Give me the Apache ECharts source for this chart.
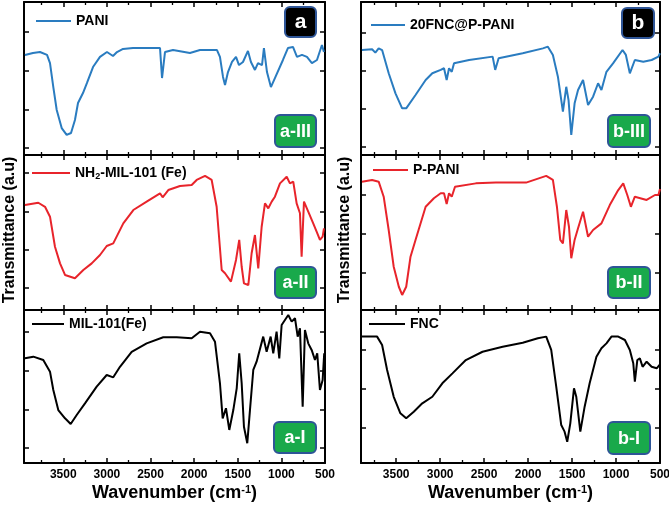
<!DOCTYPE html>
<html>
<head>
<meta charset="utf-8">
<script src="https://cdn.jsdelivr.net/npm/echarts@6/dist/echarts.min.js"></script>
<style>html,body{margin:0;padding:0;background:#fff}#c{width:669px;height:507px}</style>
</head>
<body>
<div id="c"></div>
<script>
// ---- data: [wavenumber (cm-1), transmittance (a.u., % of panel)] ----
const PANI = [[3939,65.4],[3847,66.7],[3767,67.3],[3686,65.4],[3652,60.1],[3614,44.4],[3575,29.4],[3518,17.6],[3461,13.1],[3411,14.4],[3366,22.9],[3331,34.0],[3274,40.5],[3228,47.1],[3159,57.5],[3079,64.1],[2999,67.3],[2930,64.7],[2884,67.3],[2815,69.3],[2701,69.9],[2506,69.9],[2391,69.9],[2368,50.3],[2334,67.3],[2242,68.6],[2048,66.7],[1933,68.6],[1738,68.6],[1704,64.1],[1669,51.0],[1646,45.8],[1612,54.2],[1566,60.8],[1520,64.1],[1486,58.8],[1440,60.8],[1383,68.0],[1349,60.8],[1303,55.6],[1268,60.1],[1222,58.8],[1200,69.9],[1165,54.2],[1120,44.4],[1074,50.3],[982,62.1],[925,69.9],[867,70.6],[821,64.1],[764,65.4],[707,64.1],[650,60.1],[592,62.1],[535,71.9],[512,67.3]];
const NH2_MIL = [[3939,67.7],[3786,69.2],[3709,66.6],[3652,60.2],[3595,40.8],[3537,30.1],[3480,22.6],[3366,20.5],[3270,25.8],[3174,30.1],[3079,35.5],[3002,41.3],[2927,43.0],[2812,55.9],[2697,64.5],[2544,69.9],[2391,75.3],[2361,72.7],[2296,77.4],[2162,80.0],[2028,80.6],[1971,83.9],[1875,86.5],[1799,83.9],[1742,66.6],[1684,25.8],[1646,23.7],[1578,18.3],[1520,32.3],[1483,45.2],[1455,27.9],[1429,17.2],[1379,16.1],[1341,36.6],[1303,48.4],[1265,26.9],[1226,53.7],[1188,68.8],[1150,65.6],[1111,69.9],[1074,73.1],[1016,81.7],[939,86.0],[902,81.7],[864,82.8],[825,68.8],[787,62.4],[768,34.4],[741,69.9],[692,63.4],[635,55.9],[596,50.5],[558,45.2],[527,47.3],[512,52.7]];
const MIL = [[3939,68.4],[3843,69.5],[3729,67.3],[3652,59.7],[3614,47.7],[3557,34.6],[3480,29.2],[3415,25.5],[3346,31.4],[3251,39.0],[3117,49.9],[3002,57.5],[2927,56.0],[2850,62.9],[2716,72.7],[2544,78.2],[2354,82.2],[2200,82.2],[2028,81.5],[1933,85.8],[1818,84.8],[1761,79.3],[1704,52.1],[1673,29.2],[1635,35.8],[1597,21.6],[1551,34.6],[1512,48.8],[1483,71.7],[1455,52.1],[1429,23.7],[1391,12.9],[1360,34.6],[1322,60.8],[1284,66.2],[1208,82.6],[1169,72.7],[1123,82.6],[1093,71.7],[1055,85.8],[1024,68.4],[997,90.2],[921,96.7],[882,92.4],[844,94.6],[813,82.6],[787,88.0],[756,36.8],[730,86.9],[692,78.2],[653,73.9],[615,67.3],[589,71.7],[558,47.7],[527,54.2],[509,71.7]];
const FNC_PPANI = [[3889,68.6],[3774,69.1],[3737,66.9],[3699,69.7],[3660,68.6],[3585,53.4],[3508,40.3],[3432,30.5],[3386,30.5],[3280,39.2],[3165,49.0],[3089,53.4],[2994,55.6],[2956,56.7],[2926,49.0],[2899,56.7],[2868,54.4],[2842,60.0],[2671,62.1],[2403,64.3],[2374,55.6],[2335,63.2],[2061,66.5],[1832,69.7],[1775,70.8],[1718,65.4],[1661,51.2],[1604,28.3],[1566,44.6],[1540,35.9],[1509,13.1],[1471,33.8],[1432,42.5],[1375,49.0],[1318,32.7],[1261,38.1],[1204,46.9],[1166,42.5],[1109,54.4],[1032,60.0],[926,68.6],[888,65.4],[843,53.4],[786,62.1],[690,61.0],[595,62.1],[518,64.3],[500,66.5]];
const PPANI = [[3889,82.8],[3774,83.9],[3699,82.8],[3642,73.1],[3585,51.6],[3528,27.9],[3470,15.0],[3432,9.7],[3386,15.0],[3337,34.4],[3280,45.2],[3165,66.6],[3071,72.1],[2994,75.3],[2956,75.3],[2926,68.4],[2899,75.3],[2868,73.1],[2831,79.5],[2594,81.7],[2366,82.2],[2023,82.2],[1794,86.5],[1718,83.9],[1672,66.6],[1634,45.2],[1604,43.0],[1566,64.5],[1535,53.7],[1509,33.4],[1471,45.2],[1432,52.7],[1375,63.4],[1318,47.3],[1261,51.6],[1166,55.9],[1071,67.7],[975,77.4],[918,81.7],[872,74.2],[831,66.6],[786,73.1],[652,71.0],[557,74.2],[518,74.2],[500,78.0]];
const FNC = [[3889,82.6],[3717,82.6],[3660,77.1],[3603,60.8],[3528,43.3],[3452,32.5],[3386,29.2],[3300,33.5],[3203,39.0],[3089,43.3],[2975,52.1],[2860,58.6],[2708,67.3],[2518,72.7],[2289,76.0],[2061,78.6],[1889,81.5],[1794,82.6],[1737,73.9],[1680,49.9],[1623,24.8],[1585,20.5],[1555,13.9],[1520,25.9],[1478,48.8],[1452,43.3],[1406,20.5],[1357,36.8],[1300,52.1],[1223,69.5],[1166,75.0],[1109,78.2],[1052,82.6],[975,82.6],[899,80.4],[843,73.9],[804,65.2],[786,53.1],[758,67.3],[729,68.4],[698,62.9],[652,66.2],[595,62.9],[538,61.9],[500,64.5]];

const seriesNames = ['PANI', 'NH2-MIL-101 (Fe)', 'MIL-101(Fe)', '20FNC@P-PANI', 'P-PANI', 'FNC'];
const seriesData = [PANI, NH2_MIL, MIL, FNC_PPANI, PPANI, FNC];
const panelTags = ['a-III', 'a-II', 'a-I', 'b-III', 'b-II', 'b-I'];
const columnTags = ['a', 'b'];
const xTickLabels = [500, 1000, 1500, 2000, 2500, 3000, 3500];
const xMinorTicks = [750, 1250, 1750, 2250, 2750, 3250, 3750];
const yTicks = [
  [4.6, 29.4, 54.9, 80.4],
  [14.2, 38.7, 63.2, 88.4],
  [9.8, 34.6, 60.1, 85.6],
  [5.2, 30.1, 54.9, 79.7],
  [23.9, 49.0, 74.2],
  [22.9, 48.4, 73.9]
];

// ---- layout / style ----
const FONT = '"Liberation Sans", Arial, sans-serif';
const colors = ['#2a7cc0', '#e8242b', '#000000', '#2a7cc0', '#e8242b', '#000000'];
const grids = [
  {left: 24, top: 2, width: 301, height: 153},
  {left: 24, top: 155, width: 301, height: 155},
  {left: 24, top: 310, width: 301, height: 153},
  {left: 361, top: 2, width: 299, height: 153},
  {left: 361, top: 155, width: 299, height: 155},
  {left: 361, top: 310, width: 299, height: 153}
];
const legendPos = [
  {left: 36, top: 14, w: 35}, {left: 32, top: 166, w: 38}, {left: 32, top: 317, w: 32},
  {left: 371, top: 18, w: 34}, {left: 373, top: 163, w: 35}, {left: 369, top: 317, w: 36}
];
const tagBoxes = [
  [275, 115, 41, 32], [275, 267, 41, 31], [274, 422, 42, 31],
  [608, 115, 42, 32], [608, 267, 42, 31], [608, 422, 42, 32]
];
const colBoxes = [[285, 7, 31, 30], [622, 8, 32, 30]];

const lineStyleAxis = {color: '#000', width: 2};
const xAxes = [], yAxes = [], series = [], legends = [];
grids.forEach((g, i) => {
  const right = i >= 3;
  const bottomRow = (i % 3) === 2;
  const xmax = right ? 3900 : 3950;
  // major-tick axes (bottom, top)
  ['bottom', 'top'].forEach(pos => {
    const isBottom = pos === 'bottom';
    const showLab = isBottom && bottomRow;
    xAxes.push({
      type: 'value', gridIndex: i, position: pos, inverse: true,
      min: 500, max: xmax, interval: 500,
      axisLine: {show: true, onZero: false, lineStyle: lineStyleAxis},
      axisTick: {show: true, inside: true, length: 5, customValues: xTickLabels, lineStyle: {color: '#000', width: 1.5}},
      minorTick: {show: false},
      splitLine: {show: false}, minorSplitLine: {show: false},
      axisLabel: {
        show: showLab, margin: 6, customValues: xTickLabels,
        fontFamily: FONT, fontWeight: 'bold', fontSize: 12, color: '#000',
        formatter: v => String(v)
      },
      name: showLab ? 'Wavenumber (cm{sup|-1})' : '',
      nameLocation: 'middle', nameGap: 21,
      nameTextStyle: {
        fontFamily: FONT, fontWeight: 'bold', fontSize: 18, color: '#000',
        rich: {sup: {fontFamily: FONT, fontWeight: 'bold', fontSize: 11, color: '#000', verticalAlign: 'top', padding: [0, 0, 8, 0]}}
      }
    });
  });
  // minor-tick axes (bottom, top)
  ['bottom', 'top'].forEach(pos => {
    xAxes.push({
      type: 'value', gridIndex: i, position: pos, inverse: true,
      min: 500, max: xmax, interval: 500,
      axisLine: {show: false, onZero: false},
      axisTick: {show: true, inside: true, length: 3, customValues: xMinorTicks, lineStyle: {color: '#000', width: 1.3}},
      splitLine: {show: false},
      axisLabel: {show: false}
    });
  });
  ['left', 'right'].forEach(pos => {
    yAxes.push({
      type: 'value', gridIndex: i, position: pos, min: 0, max: 100,
      axisLine: {show: true, onZero: false, lineStyle: lineStyleAxis},
      axisTick: {show: true, inside: true, length: 5, customValues: yTicks[i], lineStyle: {color: '#000', width: 1.5}},
      axisLabel: {show: false},
      splitLine: {show: false}
    });
  });
  series.push({
    name: seriesNames[i], type: 'line', xAxisIndex: i * 4, yAxisIndex: i * 2,
    data: seriesData[i], symbol: 'none', smooth: false, clip: true,
    lineStyle: {color: colors[i], width: 2}, itemStyle: {color: colors[i]}
  });
  const lp = legendPos[i];
  legends.push({
    data: [seriesNames[i]], left: lp.left, top: lp.top, padding: 0,
    icon: 'rect', itemWidth: lp.w, itemHeight: 2, itemGap: 4,
    selectedMode: false,
    formatter: n => n === 'NH2-MIL-101 (Fe)' ? 'NH{s|2}-MIL-101 (Fe)' : n,
    textStyle: {
      fontFamily: FONT, fontWeight: 'bold', fontSize: 14, color: '#000',
      rich: {s: {fontFamily: FONT, fontWeight: 'bold', fontSize: 9, color: '#000', verticalAlign: 'bottom', padding: [7, 0, 0, 0]}}
    }
  });
});

const graphics = [];
tagBoxes.forEach((b, i) => {
  graphics.push({type: 'rect', shape: {x: b[0], y: b[1], width: b[2], height: b[3], r: 5},
    style: {fill: '#19a94b', stroke: '#2e5597', lineWidth: 2}, z: 10});
  graphics.push({type: 'text', x: b[0] + b[2] / 2, y: b[1] + b[3] / 2 + 1, z: 11,
    style: {text: panelTags[i], fill: '#fff', font: 'bold 18px ' + FONT, textAlign: 'center', textVerticalAlign: 'middle'}});
});
colBoxes.forEach((b, i) => {
  graphics.push({type: 'rect', shape: {x: b[0], y: b[1], width: b[2], height: b[3], r: 5},
    style: {fill: '#000', stroke: '#2e5597', lineWidth: 2}, z: 10});
  graphics.push({type: 'text', x: b[0] + b[2] / 2, y: b[1] + b[3] / 2, z: 11,
    style: {text: columnTags[i], fill: '#fff', font: 'bold 21px ' + FONT, textAlign: 'center', textVerticalAlign: 'middle'}});
});
[10, 345].forEach(x => {
  graphics.push({type: 'text', x: x, y: 230, rotation: Math.PI / 2, z: 5,
    style: {text: 'Transmittance (a.u)', fill: '#000', font: 'bold 16px ' + FONT, textAlign: 'center', textVerticalAlign: 'middle'}});
});

const chart = echarts.init(document.getElementById('c'), null, {renderer: 'canvas'});
chart.setOption({
  animation: false,
  backgroundColor: '#fff',
  grid: grids.map(g => Object.assign({containLabel: false, outerBoundsMode: 'none'}, g)),
  xAxis: xAxes,
  yAxis: yAxes,
  legend: legends,
  series: series,
  graphic: graphics
});
</script>
</body>
</html>
